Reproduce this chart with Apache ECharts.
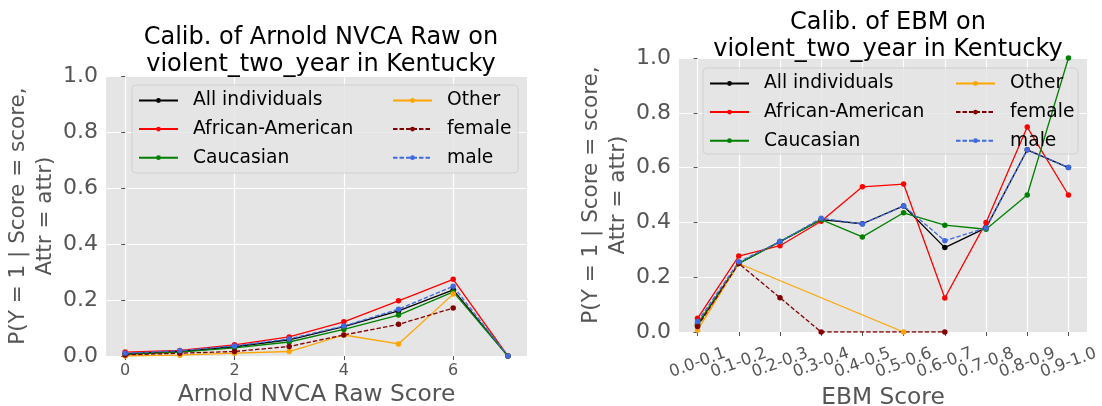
<!DOCTYPE html>
<html>
<head>
<meta charset="utf-8">
<script src="https://cdn.jsdelivr.net/npm/echarts@6/dist/echarts.min.js"></script>
<style>
  html, body { margin: 0; padding: 0; background: #fff; }
  #chart { width: 1102px; height: 406px; }
</style>
</head>
<body>
<div id="chart"></div>
<script>
// left panel: Arnold NVCA raw score 0..7
const nvcaScores = [0, 1, 2, 3, 4, 5, 6, 7];
const nvcaTicks = [0, 2, 4, 6];
const nvcaAll = [0.008, 0.016, 0.033, 0.058, 0.105, 0.161, 0.236, 0];
const nvcaAfrAm = [0.014, 0.02, 0.04, 0.068, 0.122, 0.197, 0.274, 0];
const nvcaCauc = [0.006, 0.014, 0.029, 0.05, 0.095, 0.146, 0.229, 0];
const nvcaOther = [0.0, 0.003, 0.01, 0.016, 0.075, 0.043, 0.221, null];
const nvcaFemale = [0.004, 0.01, 0.016, 0.034, 0.075, 0.113, 0.171, null];
const nvcaMale = [0.01, 0.019, 0.036, 0.061, 0.107, 0.167, 0.249, 0];

// right panel: EBM score bins
const ebmBins = ['0.0-0.1', '0.1-0.2', '0.2-0.3', '0.3-0.4', '0.4-0.5',
  '0.5-0.6', '0.6-0.7', '0.7-0.8', '0.8-0.9', '0.9-1.0'];
const ebmAll = [0.025, 0.25, 0.33, 0.41, 0.395, 0.46, 0.308, 0.38, 0.665, 0.6];
const ebmAfrAm = [0.05, 0.277, 0.315, 0.404, 0.53, 0.54, 0.124, 0.40, 0.748, 0.5];
const ebmCauc = [0.03, 0.25, 0.33, 0.41, 0.347, 0.435, 0.39, 0.375, 0.5, 1.0];
const ebmOther = [0.007, 0.25, null, null, null, 0.0, null, null, null, null];
const ebmFemale = [0.02, 0.25, 0.125, 0.0, null, null, 0.0, null, null, null];
const ebmMale = [0.038, 0.256, 0.33, 0.415, 0.394, 0.46, 0.333, 0.38, 0.665, 0.6];

const FONT = 'DejaVu Sans';
const GRAY = '#555555';
const groups = [
  { name: 'All individuals', color: '#000000', dash: 'solid' },
  { name: 'African-American', color: '#ff0000', dash: 'solid' },
  { name: 'Caucasian', color: '#008000', dash: 'solid' },
  { name: 'Other', color: '#ffa500', dash: 'solid' },
  { name: 'female', color: '#800000', dash: [4.5, 2] },
  { name: 'male', color: '#4169e1', dash: [4.5, 2] },
];

function pairs(xs, ys) {
  return xs.map((x, i) => [x, ys[i]]);
}

function makeSeries(xIdx, yIdx, xs, lists) {
  return groups.map((g, i) => ({
    name: g.name,
    type: 'line',
    xAxisIndex: xIdx,
    yAxisIndex: yIdx,
    data: pairs(xs, lists[i]),
    connectNulls: true,
    symbol: 'circle',
    symbolSize: 5.5,
    color: g.color,
    lineStyle: { width: 1.3, type: g.dash, color: g.color },
    itemStyle: { color: g.color },
    emphasis: { disabled: true },
    animation: false,
  }));
}

function yAxis(gridIndex, gap) {
  return {
    type: 'value',
    gridIndex,
    min: 0,
    max: 1,
    interval: 0.2,
    name: 'P(Y = 1 | Score = score,\nAttr = attr)',
    nameLocation: 'middle',
    nameRotate: 90,
    nameGap: gap,
    nameTextStyle: { fontFamily: FONT, fontSize: 21.5, color: GRAY, lineHeight: 27 },
    axisLine: { show: false },
    axisTick: { show: true, length: 4, lineStyle: { color: GRAY } },
    axisLabel: { fontFamily: FONT, fontSize: 22, color: GRAY, margin: 8,
      formatter: v => v.toFixed(1) },
    splitLine: { lineStyle: { color: '#ffffff', width: 1.2 } },
  };
}

const ebmIdx = ebmBins.map((b, i) => i);

// rotated bin labels overlap a little, so split them over two bottom axes
// (even / odd bins) to keep ECharts from dropping any of them
function ebmAxis(values, withName) {
  return {
    type: 'value', gridIndex: 1, min: -0.45, max: 9.45, position: 'bottom',
    name: withName ? 'EBM Score' : '', nameLocation: 'middle', nameGap: 51,
    nameTextStyle: { fontFamily: FONT, fontSize: 23.3, color: GRAY },
    axisLine: { show: false },
    axisTick: { show: true, length: 4, lineStyle: { color: GRAY }, customValues: values },
    axisLabel: { fontFamily: FONT, fontSize: 16.5, color: GRAY, rotate: 20, margin: 31,
      align: 'center', verticalAlign: 'middle', customValues: values,
      showMinLabel: true, showMaxLabel: true,
      formatter: v => ebmBins[Math.round(v)] },
    splitLine: { lineStyle: { color: '#ffffff', width: 1.2 } },
  };
}

const chart = echarts.init(document.getElementById('chart'), null, { renderer: 'canvas' });
const legendText = { fontFamily: FONT, fontSize: 18.7, color: '#000', padding: [0, 0, 0, 10] };

function legendCol(names, left, top) {
  return {
    data: names,
    orient: 'vertical',
    left, top,
    padding: 0,
    itemWidth: 39,
    itemHeight: 6,
    itemGap: 9.6,
    textStyle: legendText,
    selectedMode: false,
  };
}

const titleStyle = { fontFamily: FONT, fontSize: 24, fontWeight: 'normal', color: '#000', lineHeight: 27 };

const option = {
  backgroundColor: '#ffffff',
  animation: false,
  title: [
    { text: 'Calib. of Arnold NVCA Raw on\nviolent_two_year in Kentucky',
      left: 316, top: 19, textAlign: 'center', textStyle: titleStyle },
    { text: 'Calib. of EBM on\nviolent_two_year in Kentucky',
      left: 883, top: 4, textAlign: 'center', textStyle: titleStyle },
  ],
  grid: [
    { left: 106, top: 76, width: 421, height: 280, show: true, backgroundColor: '#e5e5e5',
      borderWidth: 0, outerBoundsMode: 'none', containLabel: false },
    { left: 679, top: 58, width: 408, height: 274, show: true, backgroundColor: '#e5e5e5',
      borderWidth: 0, outerBoundsMode: 'none', containLabel: false },
  ],
  xAxis: [
    {
      type: 'value', gridIndex: 0, min: -0.35, max: 7.35,
      name: 'Arnold NVCA Raw Score', nameLocation: 'middle', nameGap: 27,
      nameTextStyle: { fontFamily: FONT, fontSize: 23.3, color: GRAY },
      axisLine: { show: false },
      axisTick: { show: true, length: 4, lineStyle: { color: GRAY }, customValues: nvcaTicks },
      axisLabel: { fontFamily: FONT, fontSize: 16, color: GRAY, margin: 7, customValues: nvcaTicks },
      splitLine: { lineStyle: { color: '#ffffff', width: 1.2 } },
    },
    ebmAxis(ebmIdx.filter(i => i % 2 === 0), true),
    ebmAxis(ebmIdx.filter(i => i % 2 === 1), false),
  ],
  yAxis: [yAxis(0, 44), yAxis(1, 45)],
  legend: [
    legendCol(['All individuals', 'African-American', 'Caucasian'], 138, 91),
    legendCol(['Other', 'female', 'male'], 392, 91),
    legendCol(['All individuals', 'African-American', 'Caucasian'], 709, 74),
    legendCol(['Other', 'female', 'male'], 955, 74),
  ],
  graphic: [
    { type: 'rect', z: 1, silent: true,
      shape: { x: 132, y: 85, width: 386, height: 88, r: 4 },
      style: { fill: 'rgba(229,229,229,0.8)', stroke: 'rgba(204,204,204,0.8)', lineWidth: 1 } },
    { type: 'rect', z: 1, silent: true,
      shape: { x: 703, y: 68, width: 375, height: 86, r: 4 },
      style: { fill: 'rgba(229,229,229,0.8)', stroke: 'rgba(204,204,204,0.8)', lineWidth: 1 } },
  ],
  series: [
    ...makeSeries(0, 0, nvcaScores, [nvcaAll, nvcaAfrAm, nvcaCauc, nvcaOther, nvcaFemale, nvcaMale]),
    ...makeSeries(1, 1, ebmIdx, [ebmAll, ebmAfrAm, ebmCauc, ebmOther, ebmFemale, ebmMale]),
  ],
};

chart.setOption(option);
</script>
</body>
</html>
